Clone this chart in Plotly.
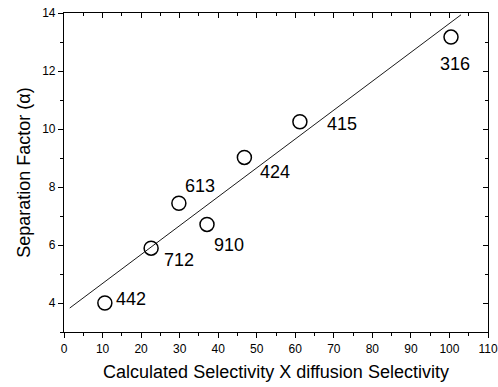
import plotly.graph_objects as go
import numpy as np

# data
labels = ["442", "712", "613", "910", "424", "415", "316"]
x_sel = [10.6, 22.6, 29.8, 37.1, 46.8, 61.2, 100.4]
y_alpha = [4.0, 5.89, 7.44, 6.71, 9.02, 10.25, 13.17]
fit_x_range = [1.5, 103.0]

x_ticks = list(range(0, 111, 10))
y_ticks = [4, 6, 8, 10, 12, 14]

# label offsets (pixels) relative to each point
label_dx = [9, 11, 4, 5, 14, 25, 4]
label_dy = [4, -12, 17, -21, -15, -2, -27]
label_anchor = ["left", "left", "left", "left", "left", "left", "center"]

slope, intercept = np.polyfit(x_sel, y_alpha, 1)
fx = np.array(fit_x_range)
fy = slope * fx + intercept

FONT = "Liberation Sans, Arial, sans-serif"

fig = go.Figure()
fig.add_trace(go.Scatter(x=fx, y=fy, mode="lines",
                         line=dict(color="black", width=0.9), hoverinfo="skip"))
fig.add_trace(go.Scatter(x=x_sel, y=y_alpha, mode="markers",
                         marker=dict(symbol="circle-open", size=14,
                                     color="black", line=dict(width=1.5))))
# dummy trace for mirrored inner-tick axes
fig.add_trace(go.Scatter(x=[None], y=[None], xaxis="x2", yaxis="y2", showlegend=False))

for lab, xv, yv, dx, dy, anc in zip(labels, x_sel, y_alpha, label_dx, label_dy, label_anchor):
    fig.add_annotation(x=xv, y=yv, text=lab, showarrow=False,
                       xshift=dx, yshift=dy, xanchor=anc, yanchor="middle",
                       font=dict(family=FONT, size=18, color="black"))

axis_common = dict(showgrid=False, zeroline=False, showline=True,
                   linecolor="black", linewidth=1.2, automargin=False,
                   tickcolor="black", tickwidth=1, ticklen=5,
                   ticklabeloverflow="allow",
                   tickfont=dict(family=FONT, size=12, color="black"))

fig.update_layout(
    width=498, height=387,
    margin=dict(l=64, r=10, t=13, b=55),
    paper_bgcolor="white", plot_bgcolor="white",
    showlegend=False,
    xaxis=dict(range=[0, 110], tickvals=x_ticks, ticks="outside",
               minor=dict(dtick=5, ticks="outside", ticklen=3, tickcolor="black"),
               title=dict(text="Calculated Selectivity X diffusion Selectivity",
                          font=dict(family=FONT, size=18, color="black"), standoff=10),
               **axis_common),
    yaxis=dict(range=[3, 14], tickvals=y_ticks, ticks="outside",
               minor=dict(dtick=1, ticks="outside", ticklen=3, tickcolor="black"),
               title=dict(text="Separation Factor (α)",
                          font=dict(family=FONT, size=18, color="black"), standoff=6),
               **axis_common),
    xaxis2=dict(range=[0, 110], overlaying="x", side="top", anchor="y2",
                tickvals=x_ticks, ticks="inside", showticklabels=False,
                minor=dict(dtick=5, ticks="inside", ticklen=3, tickcolor="black"),
                **axis_common),
    yaxis2=dict(range=[3, 14], overlaying="y", side="right", anchor="x2",
                tickvals=y_ticks, ticks="inside", showticklabels=False,
                minor=dict(dtick=1, ticks="inside", ticklen=3, tickcolor="black"),
                **axis_common),
)

fig.write_html("out.html", config={"displayModeBar": False},
               post_script="document.body.style.margin='0';document.body.style.overflow='hidden';")
